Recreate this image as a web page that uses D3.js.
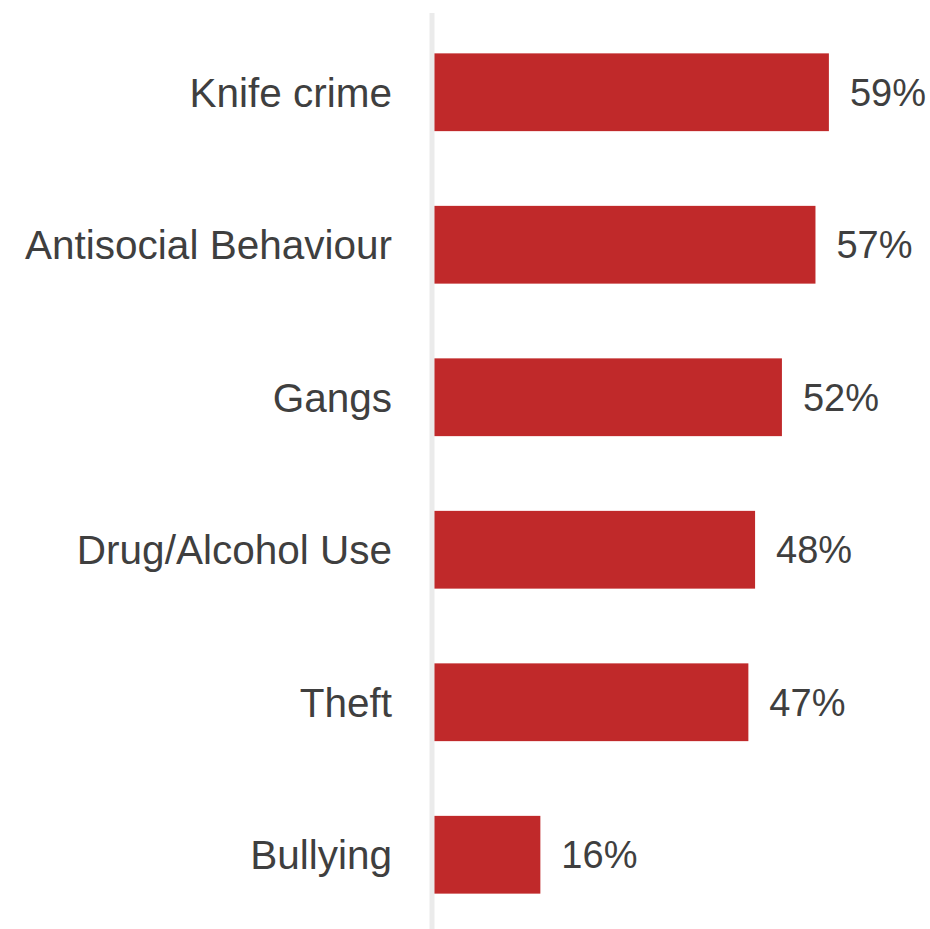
<!DOCTYPE html>
<html>
<head>
<meta charset="utf-8">
<script src="https://cdn.jsdelivr.net/npm/d3@7/dist/d3.min.js"></script>
<style>
  html, body { margin: 0; padding: 0; background: #fff; }
  svg { display: block; }
</style>
</head>
<body>
<svg id="chart" width="930" height="929"></svg>
<script>
// Share of respondents naming each issue as a concern
const categories = ["Knife crime", "Antisocial Behaviour", "Gangs", "Drug/Alcohol Use", "Theft", "Bullying"];
const values = [0.59, 0.57, 0.52, 0.48, 0.47, 0.16];

const svg = d3.select("#chart");
const W = 930, H = 929;
const x0 = 433;

const x = d3.scaleLinear().domain([0, 1]).range([x0, x0 + 671]);
const y = d3.scaleBand()
  .domain(categories)
  .range([16, 931])
  .paddingInner(0.49)
  .paddingOuter(0.245);

const data = categories.map((c, i) => ({ cat: c, val: values[i] }));
const fmt = d3.format(".0%");
const font = "'Liberation Sans', Arial, sans-serif";

// bars
svg.append("g").selectAll("rect")
  .data(data)
  .join("rect")
  .attr("x", x(0))
  .attr("y", d => y(d.cat))
  .attr("width", d => x(d.val) - x(0))
  .attr("height", y.bandwidth())
  .attr("fill", "#c0292a");

// vertical category axis line
svg.append("line")
  .attr("x1", 432).attr("x2", 432)
  .attr("y1", 13).attr("y2", H)
  .attr("stroke", "#ebebeb")
  .attr("stroke-width", 5);

// category labels
svg.append("g").selectAll("text")
  .data(data)
  .join("text")
  .attr("x", 392)
  .attr("y", d => y(d.cat) + y.bandwidth() / 2)
  .attr("dy", "0.36em")
  .attr("text-anchor", "end")
  .attr("font-family", font)
  .attr("font-size", 40.5)
  .attr("fill", "#3f3f3f")
  .text(d => d.cat);

// value labels
svg.append("g").selectAll("text")
  .data(data)
  .join("text")
  .attr("x", d => x(d.val) + 21)
  .attr("y", d => y(d.cat) + y.bandwidth() / 2)
  .attr("dy", "0.36em")
  .attr("font-family", font)
  .attr("font-size", 38)
  .attr("fill", "#3f3f3f")
  .text(d => fmt(d.val));
</script>
</body>
</html>
